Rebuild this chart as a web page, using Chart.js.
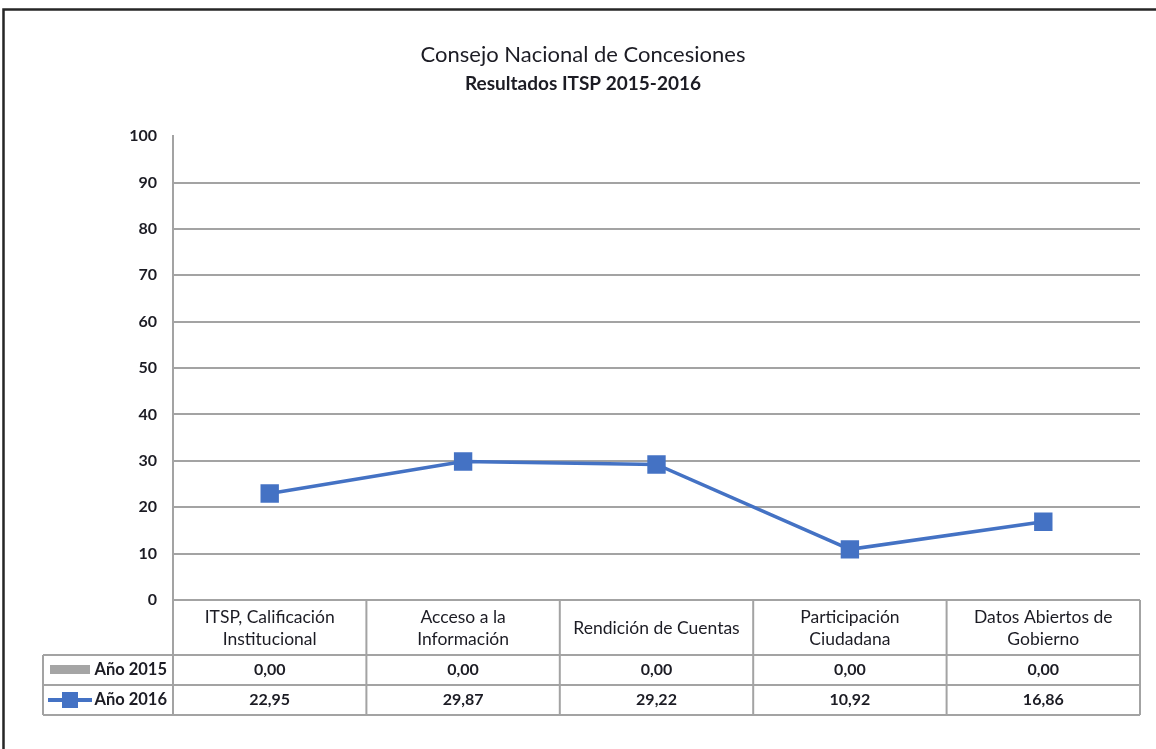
<!DOCTYPE html>
<html>
<head>
<meta charset="utf-8">
<script src="https://cdn.jsdelivr.net/npm/chart.js@4/dist/chart.umd.min.js"></script>
<style>
  html, body { margin: 0; padding: 0; background: #fff; }
  canvas { display: block; }
</style>
</head>
<body>
<canvas id="c" width="1156" height="749"></canvas>
<script>
// ---- data ----
const categories = [
  ['ITSP, Calificación', 'Institucional'],
  ['Acceso a la', 'Información'],
  'Rendición de Cuentas',
  ['Participación', 'Ciudadana'],
  ['Datos Abiertos de', 'Gobierno']
];
const seriesNames = ['Año 2015', 'Año 2016'];
const values2015 = [0.00, 0.00, 0.00, 0.00, 0.00];
const values2016 = [22.95, 29.87, 29.22, 10.92, 16.86];
const yTicks = [0, 10, 20, 30, 40, 50, 60, 70, 80, 90, 100];
const titleText = 'Consejo Nacional de Concesiones';
const subtitleText = 'Resultados ITSP 2015-2016';

const FONT = 'Lato, "Open Sans", sans-serif';
const TEXT = '#1c1c24';
const GRID = '#a3a3a3';
const BLUE = '#4472c4';
const GRAY = '#a5a5a5';

function fmt(v) { return v.toFixed(2).replace('.', ','); }

const frame = {
  id: 'frame',
  beforeDraw(chart) {
    const c = chart.ctx;
    c.save();
    c.fillStyle = '#fff';
    c.fillRect(0, 0, chart.width, chart.height);
    c.strokeStyle = '#262626';
    c.lineWidth = 2.5;
    c.beginPath();
    c.moveTo(3.5, chart.height);
    c.lineTo(3.5, 9.5);
    c.lineTo(chart.width, 9.5);
    c.stroke();
    c.restore();
  }
};

const dataTable = {
  id: 'dataTable',
  afterDraw(chart) {
    const c = chart.ctx;
    const xs = chart.scales.x;
    const n = categories.length;
    const left = chart.chartArea.left, right = chart.chartArea.right;
    const top = chart.chartArea.bottom;
    const colW = (right - left) / n;
    const headH = 55, rowH = 30;
    const legLeft = 43;
    const r1 = top + headH, r2 = r1 + rowH, r3 = r2 + rowH;
    c.save();
    c.strokeStyle = GRID;
    c.lineWidth = 2;
    c.beginPath();
    c.moveTo(left, top); c.lineTo(right, top);
    [r1, r2, r3].forEach(y => { c.moveTo(legLeft, y); c.lineTo(right, y); });
    c.moveTo(legLeft, r1); c.lineTo(legLeft, r3);
    for (let i = 0; i <= n; i++) {
      const x = left + i * colW;
      c.moveTo(x, top); c.lineTo(x, r3);
    }
    c.stroke();

    c.fillStyle = TEXT;
    c.textAlign = 'center';
    c.textBaseline = 'middle';
    // header
    c.font = '17.5px ' + FONT;
    categories.forEach((cat, i) => {
      const cx = xs.getPixelForValue(i);
      const lines = Array.isArray(cat) ? cat : [cat];
      const lh = 22;
      const y0 = top + headH / 2 + 1 - (lines.length - 1) * lh / 2;
      lines.forEach((ln, k) => c.fillText(ln, cx, y0 + k * lh));
    });
    // values
    c.font = 'bold 16px ' + FONT;
    const rows = [values2015, values2016];
    rows.forEach((vals, r) => {
      const cy = r1 + rowH * r + rowH / 2;
      vals.forEach((v, i) => c.fillText(fmt(v), xs.getPixelForValue(i), cy));
    });
    // legend keys
    c.textAlign = 'right';
    c.font = 'bold 16.5px ' + FONT;
    seriesNames.forEach((name, r) => {
      const cy = r1 + rowH * r + rowH / 2;
      c.fillStyle = TEXT;
      c.fillText(name, left - 6, cy);
    });
    const k1y = r1 + rowH / 2, k2y = r2 + rowH / 2;
    c.fillStyle = GRAY;
    c.fillRect(50, k1y - 5, 40, 9);
    c.strokeStyle = BLUE;
    c.lineWidth = 4;
    c.beginPath(); c.moveTo(48, k2y); c.lineTo(92, k2y); c.stroke();
    c.fillStyle = BLUE;
    c.fillRect(62, k2y - 8, 16, 16);
    c.restore();
  }
};

new Chart(document.getElementById('c'), {
  type: 'line',
  data: {
    labels: categories,
    datasets: [
      {
        label: seriesNames[1],
        data: values2016,
        borderColor: BLUE,
        backgroundColor: BLUE,
        borderWidth: 3.5,
        pointStyle: 'rect',
        pointRadius: 13,
        pointHoverRadius: 13,
        pointBorderWidth: 0,
        tension: 0,
        order: 0
      },
      {
        label: seriesNames[0],
        data: values2015,
        borderColor: GRAY,
        backgroundColor: GRAY,
        borderWidth: 2,
        pointRadius: 0,
        order: 1
      }
    ]
  },
  options: {
    responsive: false,
    devicePixelRatio: 1,
    animation: false,
    layout: { padding: { left: 26, right: 16, top: 0, bottom: 149 } },
    plugins: {
      legend: { display: false },
      tooltip: { enabled: false },
      title: {
        display: true,
        text: titleText,
        color: TEXT,
        font: { family: FONT, size: 22, weight: 'normal' },
        padding: { top: 42, bottom: 4 }
      },
      subtitle: {
        display: true,
        text: subtitleText,
        color: TEXT,
        font: { family: FONT, size: 19, weight: 'bold' },
        padding: { top: 0, bottom: 41 }
      }
    },
    scales: {
      x: {
        display: false,
        offset: true
      },
      y: {
        min: 0,
        max: 100,
        afterFit(scale) { scale.width = 147; },
        afterBuildTicks(scale) { scale.ticks = yTicks.map(v => ({ value: v })); },
        ticks: {
          stepSize: 10,
          padding: 16,
          color: TEXT,
          font: { family: FONT, size: 16, weight: 'bold' }
        },
        grid: {
          drawTicks: false,
          lineWidth: 2,
          color: (ctx) => (ctx.tick && ctx.tick.value === 100) ? 'rgba(0,0,0,0)' : GRID
        },
        border: { display: true, color: GRID, width: 2 }
      }
    }
  },
  plugins: [frame, dataTable]
});
</script>
</body>
</html>
